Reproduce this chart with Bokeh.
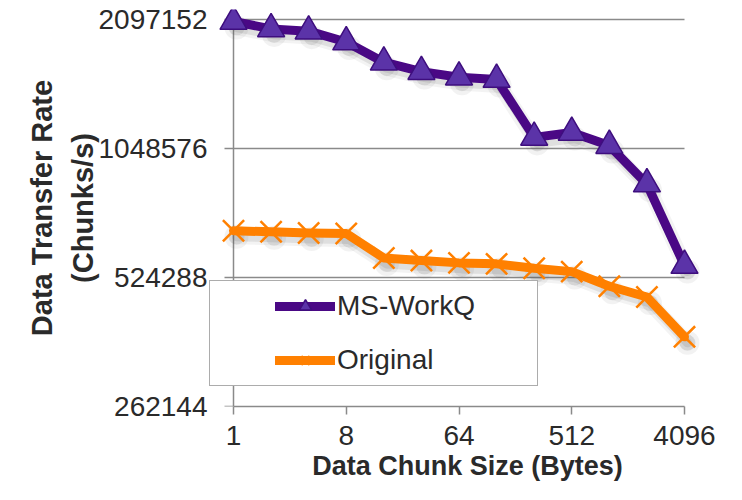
import math
from bokeh.plotting import figure
from bokeh.models import Range1d, FixedTicker, Legend, LegendItem, NumeralTickFormatter
from bokeh.embed import file_html
from bokeh.resources import INLINE

# ---- data ----
sizes = [1, 2, 4, 8, 16, 32, 64, 128, 256, 512, 1024, 2048, 4096]
ms_workq = [2075000, 1994000, 1970000, 1858000, 1667000, 1585000, 1538000,
            1519000, 1113000, 1143000, 1065000, 866000, 559000]
original = [674000, 670000, 666000, 664000, 582000, 574000, 567000,
            564000, 551000, 541000, 500000, 472000, 381000]
x_ticks = [1, 8, 64, 512, 4096]
y_ticks = [262144, 524288, 1048576, 2097152]
series_names = ["MS-WorkQ", "Original"]
x_title = "Data Chunk Size (Bytes)"
y_title = "Data Transfer Rate\n(Chunks/s)"

# ---- layout ----
W, H = 726, 484
frame_l, frame_r, frame_t, frame_b = 208, 726, 9, 406
pad_l, pad_r, pad_t = 25, 42, 10
ppo_x = (frame_r - frame_l - pad_l - pad_r) / math.log2(x_ticks[-1] / x_ticks[0])
ppo_y = (frame_b - frame_t - pad_t) / math.log2(y_ticks[-1] / y_ticks[0])

axis_col = "#8a8a8a"
text_col = "#2a2a2a"
purple = "#4A0885"
purple_fill = "#5B33A8"
purple_edge = "#3E0E7E"
orange = "#FF8000"
shadow = "#555555"
FONT = "Liberation Sans"

p = figure(width=W, height=H, x_axis_type="log", y_axis_type="log",
           x_range=Range1d(x_ticks[0] * 2 ** (-pad_l / ppo_x), x_ticks[-1] * 2 ** (pad_r / ppo_x)),
           y_range=Range1d(y_ticks[0] * 2 ** (-0.0005), y_ticks[-1] * 2 ** (pad_t / ppo_y)),
           output_backend="svg", toolbar_location=None,
           min_border_left=frame_l, min_border_right=W - frame_r,
           min_border_top=frame_t, min_border_bottom=H - frame_b)
p.outline_line_color = None
p.grid.visible = False
p.background_fill_color = "white"

# x axis
xa = p.xaxis[0]
xa.ticker = FixedTicker(ticks=x_ticks)
xa.formatter = NumeralTickFormatter(format="0")
xa.bounds = (x_ticks[0], x_ticks[-1])
xa.axis_line_color = axis_col
xa.axis_line_width = 1.5
xa.major_tick_line_color = axis_col
xa.major_tick_line_width = 1.5
xa.major_tick_out = 8
xa.major_tick_in = 0
xa.minor_tick_line_color = None
xa.major_label_text_font = FONT
xa.major_label_text_font_size = "28px"
xa.major_label_text_color = text_col
xa.major_label_standoff = 11
xa.axis_label = x_title
xa.axis_label_text_font = FONT
xa.axis_label_text_font_style = "bold"
xa.axis_label_text_font_size = "27px"
xa.axis_label_text_color = text_col
xa.axis_label_standoff = 3

# y axis (line and ticks drawn below at x = 1)
ya = p.yaxis[0]
ya.ticker = FixedTicker(ticks=y_ticks)
ya.formatter = NumeralTickFormatter(format="0")
ya.axis_line_color = None
ya.major_tick_line_color = None
ya.major_tick_out = 0
ya.major_tick_in = 0
ya.minor_tick_line_color = None
ya.major_label_text_font = FONT
ya.major_label_text_font_size = "28px"
ya.major_label_text_color = text_col
ya.major_label_standoff = 1
ya.axis_label = y_title
ya.axis_label_text_font = FONT
ya.axis_label_text_font_style = "bold"
ya.axis_label_text_font_size = "29px"
ya.axis_label_text_color = text_col
ya.axis_label_text_line_height = 1.3
ya.axis_label_standoff = -4

# gridlines, y-axis line and y ticks at the data bounds
p.segment(x0=x_ticks[0], x1=x_ticks[-1], y0=y_ticks[1:], y1=y_ticks[1:],
          line_color=axis_col, line_width=1.5)
p.segment(x0=x_ticks[0], x1=x_ticks[0], y0=y_ticks[0], y1=y_ticks[-1],
          line_color=axis_col, line_width=1.5)
p.segment(x0=x_ticks[0] * 2 ** (-9 / ppo_x), x1=x_ticks[0], y0=y_ticks, y1=y_ticks,
          line_color=axis_col, line_width=1.5)

# soft drop shadows (offset a few pixels right/down)
sx = 2 ** (3 / ppo_x)
sy = 2 ** (-6 / ppo_y)
sh_x = [s * sx for s in sizes]
for series in (original, ms_workq):
    sh_y = [v * sy for v in series]
    p.line(sh_x, sh_y, line_color=shadow, line_width=15, line_alpha=0.07,
           line_join="round", line_cap="round")
    p.line(sh_x, sh_y, line_color=shadow, line_width=9, line_alpha=0.12,
           line_join="round", line_cap="round")
    p.scatter(sh_x, sh_y, marker="circle", size=24, fill_color=shadow, fill_alpha=0.08,
              line_color=None)
    p.scatter(sh_x, sh_y, marker="circle", size=16, fill_color=shadow, fill_alpha=0.12,
              line_color=None)

# series
r2 = p.line(sizes, original, line_color=orange, line_width=9,
            line_join="round", line_cap="round")
s2 = p.scatter(sizes, original, marker="x", size=30, line_color=orange, line_width=2.5)
r1 = p.line(sizes, ms_workq, line_color=purple, line_width=9,
            line_join="round", line_cap="round")
s1 = p.scatter(sizes, ms_workq, marker="triangle", size=27, fill_color=purple_fill,
               line_color=purple_edge, line_width=1.5)

legend = Legend(items=[LegendItem(label=series_names[0], renderers=[r1, s1]),
                       LegendItem(label=series_names[1], renderers=[r2, s2])],
                location=(1, frame_b - 386), orientation="vertical",
                padding=9, spacing=22, margin=0,
                glyph_width=60, glyph_height=30, label_height=30, label_width=191,
                label_standoff=2,
                label_text_font=FONT, label_text_font_size="28px",
                label_text_color=text_col,
                border_line_color="#595959", border_line_width=1.5,
                background_fill_color="white", background_fill_alpha=1.0,
                title=" ", title_location="left", title_text_font_size="10px",
                title_standoff=45)
p.add_layout(legend, "center")

open("out.html", "w").write(file_html(p, INLINE))
